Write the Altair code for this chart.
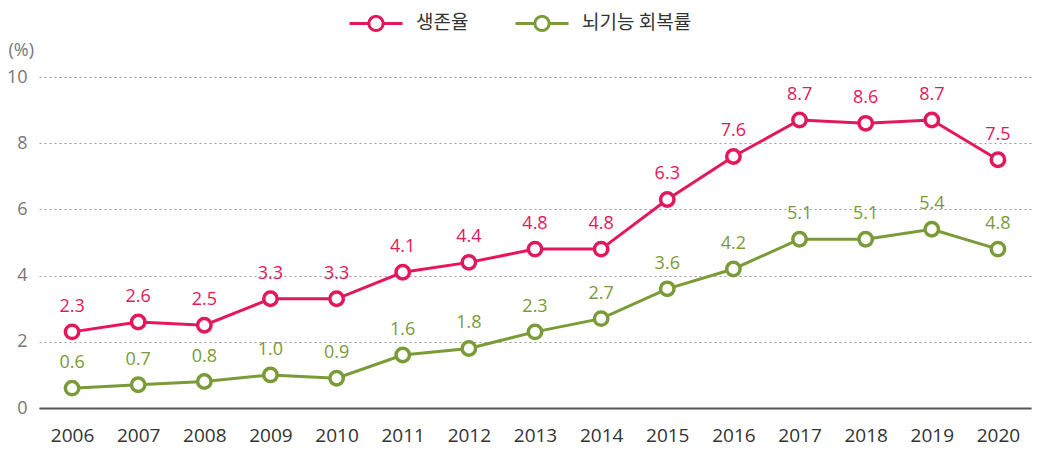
import altair as alt
import pandas as pd

years = [str(y) for y in range(2006, 2021)]
series_names = ["생존율", "뇌기능 회복률"]
survival = [2.3, 2.6, 2.5, 3.3, 3.3, 4.1, 4.4, 4.8, 4.8, 6.3, 7.6, 8.7, 8.6, 8.7, 7.5]
recovery = [0.6, 0.7, 0.8, 1.0, 0.9, 1.6, 1.8, 2.3, 2.7, 3.6, 4.2, 5.1, 5.1, 5.4, 4.8]
colors = ["#E2185B", "#7B9A38"]
y_ticks = [0, 2, 4, 6, 8, 10]

rows = []
for name, vals in zip(series_names, [survival, recovery]):
    for y, v in zip(years, vals):
        rows.append({"year": y, "series": name, "value": v})
df = pd.DataFrame(rows)

FONT = "Noto Sans CJK KR"
NUMFONT = "Open Sans"

x = alt.X("year:N", sort=years, scale=alt.Scale(type="point", padding=0.5),
          axis=alt.Axis(title=None, labelAngle=0, ticks=False, labelPadding=18,
                        labelFontSize=19, labelColor="#333333", labelFont=NUMFONT,
                        domainColor="#555555", domainWidth=2, grid=False))
y = alt.Y("value:Q", scale=alt.Scale(domain=[0, 10], nice=False),
          axis=alt.Axis(values=y_ticks, title="(%)", titleAngle=0, titleAlign="left",
                        titleBaseline="middle", titleX=-31, titleY=-27,
                        titleFontSize=18, titleFontWeight="normal", titleColor="#777777",
                        titleFont=NUMFONT,
                        ticks=False, domain=False, labelPadding=12, labelFontSize=18,
                        labelColor="#777777", labelFont=NUMFONT,
                        grid=True, gridDash=[2, 3], gridColor="#999999", gridWidth=1))

legend = alt.Legend(title=None, orient="none", direction="horizontal",
                    legendX=309, legendY=-82, padding=0,
                    symbolType="M-1,0L-0.27,0M0.27,0L1,0M-0.27,0A0.27,0.27,0,1,0,0.27,0A0.27,0.27,0,1,0,-0.27,0Z",
                    symbolSize=2809, symbolStrokeWidth=3, symbolFillColor="white",
                    labelFontSize=19, labelColor="#333333", labelFont=FONT,
                    labelBaseline="middle", labelOffset=12, columnPadding=40)
scale = alt.Scale(domain=series_names, range=colors)

base = alt.Chart(df)

line = base.mark_line(strokeWidth=3).encode(
    x=x, y=y, color=alt.Color("series:N", scale=scale, legend=None), detail="series:N")

points = base.mark_point(filled=False, fill="white", size=180, strokeWidth=3.5, opacity=1).encode(
    x=x, y=y, color=alt.Color("series:N", scale=scale, sort=series_names, legend=legend))

labels = base.mark_text(dy=-25, fontSize=18, font=NUMFONT).encode(
    x=x, y=y, text=alt.Text("value:Q", format=".1f"),
    color=alt.Color("series:N", scale=scale, legend=None))

chart = alt.layer(line, points, labels).resolve_scale(color="independent").properties(
    width=992, height=331,
    autosize=alt.AutoSizeParams(type="none"),
    padding={"left": 31, "top": 69, "right": 10, "bottom": 50},
).configure_view(stroke=None)

chart.save("out.html", embed_options={"renderer": "svg", "actions": False})
